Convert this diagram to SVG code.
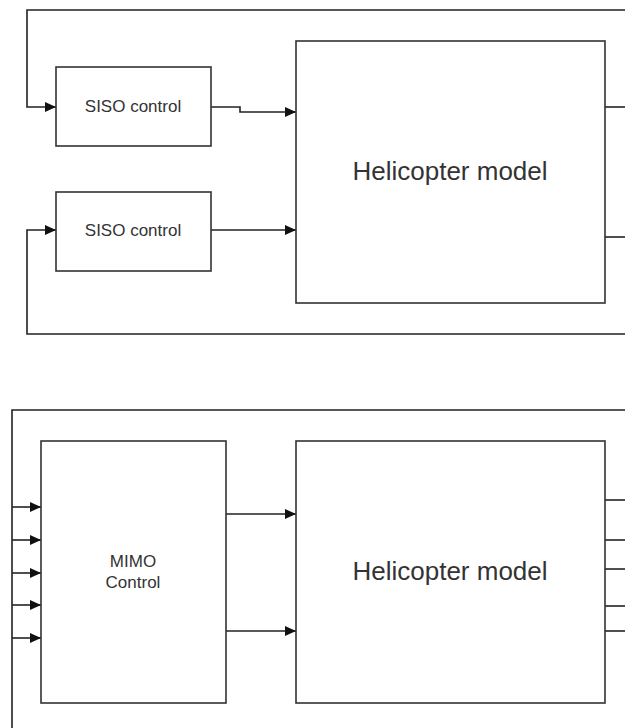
<svg xmlns="http://www.w3.org/2000/svg" width="625" height="728" viewBox="0 0 625 728">
<style>
.box{fill:#fff;stroke:#333;stroke-width:1.6}
.ln{fill:none;stroke:#222;stroke-width:1.6}
.t{font-family:"Liberation Sans",Arial,sans-serif;fill:#333;text-anchor:middle}
</style>
<defs>
<marker id="ah" viewBox="0 0 10 10" refX="10" refY="5" markerWidth="11" markerHeight="10" markerUnits="userSpaceOnUse" orient="auto" preserveAspectRatio="none">
<path d="M0,0 L10,5 L0,10 Z" fill="#111"/>
</marker>
</defs>
<rect width="625" height="728" fill="#fff"/>
<g id="connectors">
<path class="ln" d="M625,10 H27 V107 H56" marker-end="url(#ah)"/>
<path class="ln" d="M211,107 H240 V112 H296" marker-end="url(#ah)"/>
<path class="ln" d="M211,230 H296" marker-end="url(#ah)"/>
<path class="ln" d="M625,334 H27 V230 H56" marker-end="url(#ah)"/>
<path class="ln" d="M605,107 H625"/>
<path class="ln" d="M605,237 H625"/>
<path class="ln" d="M625,410 H12 V728"/>
<path class="ln" d="M12,507 H41" marker-end="url(#ah)"/>
<path class="ln" d="M12,540 H41" marker-end="url(#ah)"/>
<path class="ln" d="M12,573 H41" marker-end="url(#ah)"/>
<path class="ln" d="M12,605 H41" marker-end="url(#ah)"/>
<path class="ln" d="M12,638 H41" marker-end="url(#ah)"/>
<path class="ln" d="M226,514 H296" marker-end="url(#ah)"/>
<path class="ln" d="M226,631 H296" marker-end="url(#ah)"/>
<path class="ln" d="M605,500 H625"/>
<path class="ln" d="M605,540 H625"/>
<path class="ln" d="M605,569 H625"/>
<path class="ln" d="M605,606 H625"/>
<path class="ln" d="M605,631 H625"/>
</g>
<g id="siso1">
<rect class="box" x="56" y="67" width="155" height="79"/>
<text class="t" x="133" y="112" font-size="17">SISO control</text>
</g>
<g id="siso2">
<rect class="box" x="56" y="192" width="155" height="79"/>
<text class="t" x="133" y="236" font-size="17">SISO control</text>
</g>
<g id="heli1">
<rect class="box" x="296" y="41" width="309" height="262"/>
<text class="t" x="450" y="180" font-size="26">Helicopter model</text>
</g>
<g id="mimo">
<rect class="box" x="41" y="441" width="185" height="262"/>
<text class="t" x="133" y="567" font-size="17">MIMO</text>
<text class="t" x="133" y="588" font-size="17">Control</text>
</g>
<g id="heli2">
<rect class="box" x="296" y="441" width="309" height="262"/>
<text class="t" x="450" y="580" font-size="26">Helicopter model</text>
</g>
</svg>
